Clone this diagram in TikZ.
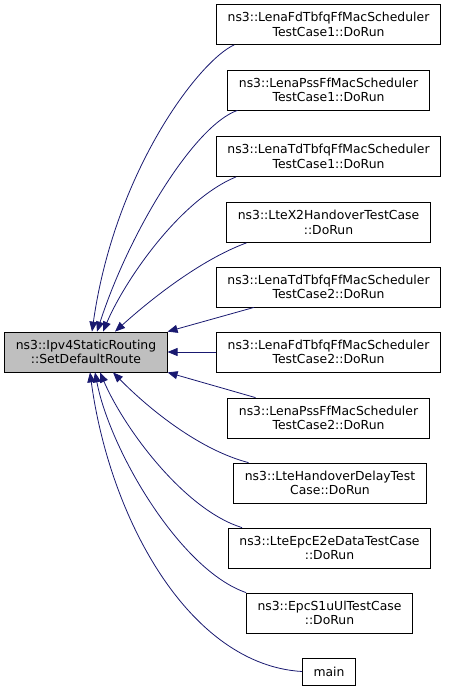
\documentclass[tikz,border=0pt]{standalone}
\usepackage{fontspec}
\setmainfont{DejaVu Sans}
\usepackage{tikz}
\usetikzlibrary{arrows.meta}

\definecolor{edgeblue}{HTML}{191970}
\definecolor{boxgray}{HTML}{BFBFBF}

\tikzset{
  fn/.style={draw=black, line width=0.8pt, fill=white, align=center,
    inner xsep=11pt, inner ysep=0pt, minimum height=40pt,
    font=\fontsize{12.4}{14.3}\selectfont},
  call/.style={draw=edgeblue, line width=0.8pt,
    {Triangle[length=10pt,width=8pt]}-}
}

\begin{document}
\begin{tikzpicture}[x=1pt,y=-1pt]
      \useasboundingbox (0,0) rectangle (448,691);

      \node[fn, fill=boxgray] (route) at (86,352) {ns3::Ipv4StaticRouting\\::SetDefaultRoute};

      \node[fn] (fdone) at (328.5,24.5) {ns3::LenaFdTbfqFfMacScheduler\\TestCase1::DoRun};
      \node[fn] (pssone) at (328.5,90) {ns3::LenaPssFfMacScheduler\\TestCase1::DoRun};
      \node[fn] (tdone) at (328.5,156.5) {ns3::LenaTdTbfqFfMacScheduler\\TestCase1::DoRun};
      \node[fn] (xtwo) at (328.5,222.5) {ns3::LteX2HandoverTestCase\\::DoRun};
      \node[fn] (tdtwo) at (328.5,287) {ns3::LenaTdTbfqFfMacScheduler\\TestCase2::DoRun};
      \node[fn] (fdtwo) at (328.5,352) {ns3::LenaFdTbfqFfMacScheduler\\TestCase2::DoRun};
      \node[fn] (psstwo) at (328.5,418) {ns3::LenaPssFfMacScheduler\\TestCase2::DoRun};
      \node[fn] (delay) at (330,483) {ns3::LteHandoverDelayTest\\Case::DoRun};
      \node[fn] (etwoe) at (329.5,548) {ns3::LteEpcE2eDataTestCase\\::DoRun};
      \node[fn] (sone) at (329.5,613) {ns3::EpcS1uUlTestCase\\::DoRun};
      \node[fn, minimum height=27pt] (mainfn) at (329,671.5) {main};

      % callers above
      \draw[call] ([xshift=6pt]route.north) .. controls (115,170) and (200,60) .. ([xshift=18pt]fdone.south west);
      \draw[call] ([xshift=11pt]route.north) .. controls (130,230) and (195,125) .. ([xshift=10pt]pssone.south west);
      \draw[call] ([xshift=17pt]route.north) .. controls (125,280) and (180,200) .. ([xshift=20pt]tdone.south west);
      \draw[call] ([xshift=29pt]route.north) .. controls (150,300) and (200,260) .. ([xshift=20pt]xtwo.south west);
      \draw[call] (route.north east) -- ([xshift=38pt]tdtwo.south west);
      \draw[call] (route.east) -- (fdtwo.west);
      \draw[call] (route.south east) -- ([xshift=28pt]psstwo.north west);

      % callers below
      \draw[call] ([xshift=27pt]route.south) .. controls (150,410) and (200,450) .. ([xshift=15pt]delay.north west);
      \draw[call] ([xshift=14pt]route.south) .. controls (125,430) and (185,510) .. ([xshift=14pt]etwoe.north west);
      \draw[call] ([xshift=9pt]route.south) .. controls (110,450) and (180,570) .. (sone.north west);
      \draw[call] ([xshift=4pt]route.south) .. controls (110,520) and (190,665) .. (mainfn.west);
    \end{tikzpicture}
\end{document}
